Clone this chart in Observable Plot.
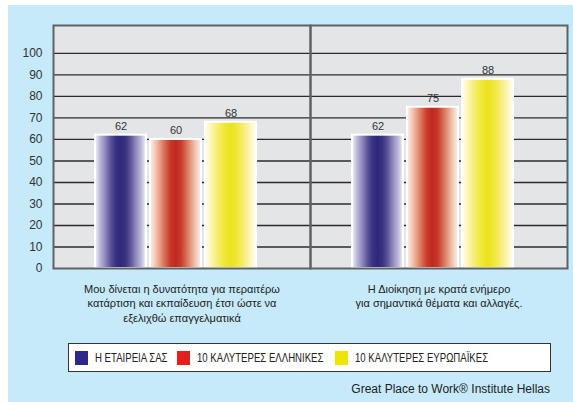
<!DOCTYPE html>
<html>
<head>
<meta charset="utf-8">
<script src="https://cdn.jsdelivr.net/npm/d3@7"></script>
<script src="https://cdn.jsdelivr.net/npm/@observablehq/plot@0.6"></script>
<style>
  html, body { margin: 0; padding: 0; background: #ffffff; }
  body { width: 573px; height: 402px; position: relative; overflow: hidden; font-family: "Liberation Sans", Arial, sans-serif; }
  #bg { position: absolute; left: 8px; top: 5px; width: 565px; height: 397px; background: #c6eaf9; }
  #chart { position: absolute; left: 0; top: 0; }
  #legend { position: absolute; left: 68px; top: 343px; width: 481px; height: 27px; background: #ffffff; border: 1.5px solid #333; box-sizing: content-box; }
  .item { position: absolute; top: 0; height: 27px; display: flex; align-items: center; font-family: "Liberation Sans", Arial, sans-serif; font-size: 12px; color: #222; white-space: nowrap; }
  .sw { width: 13px; height: 14px; margin-right: 7px; display: inline-block; flex: none; }
  .lt { display: inline-block; transform: scaleX(0.8); transform-origin: 0 50%; }
  #caption { position: absolute; right: 23px; top: 382px; font-size: 12px; color: #222; }
</style>
</head>
<body>
<div id="bg"></div>
<div id="chart"></div>
<div id="legend"></div>
<div id="caption">Great Place to Work® Institute Hellas</div>
<script>
const categories = [
  "Μου δίνεται η δυνατότητα για περαιτέρω\nκατάρτιση και εκπαίδευση έτσι ώστε να\nεξελιχθώ επαγγελματικά",
  "Η Διοίκηση με κρατά ενήμερο\nγια σημαντικά θέματα και αλλαγές."
];
const series = ["Η ΕΤΑΙΡΕΙΑ ΣΑΣ", "10 ΚΑΛΥΤΕΡΕΣ ΕΛΛΗΝΙΚΕΣ", "10 ΚΑΛΥΤΕΡΕΣ ΕΥΡΩΠΑΪΚΕΣ"];
const companyValues = [62, 62];
const greekValues = [60, 75];
const europeValues = [68, 88];
const yTicks = [0, 10, 20, 30, 40, 50, 60, 70, 80, 90, 100];
const swatchColors = ["#2e2a8a", "#e3201e", "#ede600"];

const seriesValues = [companyValues, greekValues, europeValues];
const data = [];
categories.forEach((c, i) => {
  series.forEach((s, j) => data.push({category: c, series: s, value: seriesValues[j][i]}));
});

const gradIds = ["gBlue", "gRed", "gYellow"];
const gradStops = [
  ["#f4f4fa", "#b9b6d8", "#8f89bf", "#5d5699", "#3a3382", "#2e2878", "#3a3382", "#5d5699", "#8f89bf", "#b9b6d8", "#f4f4fa"],
  ["#fdf0ee", "#f4c9b8", "#e49a80", "#d6684f", "#c9372b", "#bc2a22", "#c9372b", "#d6684f", "#e49a80", "#f4c9b8", "#fdf0ee"],
  ["#fffef2", "#fdf7c0", "#f8ef8a", "#f3eb58", "#efe634", "#ebe31c", "#efe634", "#f3eb58", "#f8ef8a", "#fdf7c0", "#fffef2"]
];

const svg = Plot.plot({
  width: 573,
  height: 330,
  marginLeft: 53,
  marginRight: 6,
  marginTop: 25,
  marginBottom: 62,
  style: {background: "transparent", fontFamily: "Liberation Sans, Arial, sans-serif"},
  fx: {domain: categories, padding: 0, label: null},
  x: {domain: series, paddingInner: 0.075, paddingOuter: 0.87, align: 0.44, axis: null},
  y: {domain: [0, 113], axis: null},
  color: {domain: series, range: gradIds.map(id => `url(#${id})`)},
  marks: [
    Plot.frame({fill: "#e4e5e7"}),
    Plot.ruleY(yTicks.filter(v => v > 0), {stroke: "#2b2b2b", strokeWidth: 1.3}),
    Plot.barY(data, {fx: "category", x: "series", y: "value", fill: "series", stroke: "#ffffff", strokeWidth: 2}),
    Plot.text(data, {fx: "category", x: "series", y: "value", text: d => String(d.value), lineAnchor: "bottom", dy: -5, fontSize: 11, fill: "#333"}),
    Plot.frame({stroke: "#5d6266", strokeWidth: 2}),
    Plot.axisY(yTicks, {anchor: "left", tickSize: 0, tickPadding: 11, fontSize: 12, fill: "#333", label: null, facetAnchor: "left"}),
    Plot.axisFx({anchor: "bottom", tickSize: 0, tickPadding: 14, fontSize: 11, lineHeight: 1.32, fill: "#222", label: null})
  ]
});

// gradient definitions for the cylinder-like bars
const defs = d3.create("svg:defs");
gradIds.forEach((id, k) => {
  const g = defs.append("linearGradient").attr("id", id).attr("x1", 0).attr("x2", 1).attr("y1", 0).attr("y2", 0);
  const stops = gradStops[k];
  stops.forEach((c, i) => g.append("stop").attr("offset", i / (stops.length - 1)).attr("stop-color", c));
});
svg.insertBefore(defs.node(), svg.firstChild);
document.getElementById("chart").appendChild(svg);

// legend
const legend = document.getElementById("legend");
const itemLefts = [6, 108, 266];
series.forEach((s, i) => {
  const it = document.createElement("div");
  it.className = "item";
  it.style.left = itemLefts[i] + "px";
  const sw = document.createElement("span");
  sw.className = "sw";
  sw.style.background = swatchColors[i];
  it.appendChild(sw);
  const t = document.createElement("span");
  t.className = "lt";
  t.textContent = s;
  it.appendChild(t);
  legend.appendChild(it);
});
</script>
</body>
</html>
